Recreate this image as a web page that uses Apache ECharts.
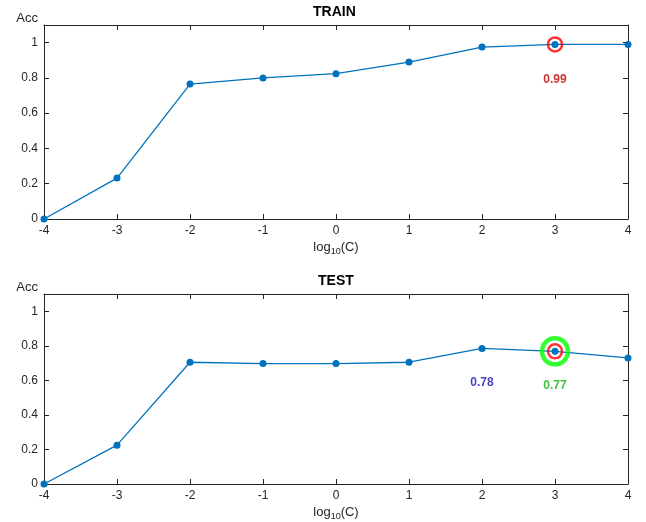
<!DOCTYPE html>
<html>
<head>
<meta charset="utf-8">
<script src="https://cdn.jsdelivr.net/npm/echarts@6/dist/echarts.min.js"></script>
<style>
  html, body { margin: 0; padding: 0; background: #fff; }
  #chart { width: 646px; height: 522px; }
</style>
</head>
<body>
<div id="chart"></div>
<script>
const logC = [-4, -3, -2, -1, 0, 1, 2, 3, 4];
const trainAcc = [0, 0.232, 0.765, 0.80, 0.824, 0.89, 0.975, 0.99, 0.99];
const testAcc = [0, 0.225, 0.705, 0.697, 0.697, 0.705, 0.785, 0.768, 0.73];
const yTicks = [0, 0.2, 0.4, 0.6, 0.8, 1];

// highlighted points and their text labels
const trainBest = [[3, 0.99]];
const trainBestLabel = [[3, 0.79, "0.99"]];
const testBestTrain = [[3, 0.768]];
const testBest = [[3, 0.768]];
const testMaxLabel = [[2, 0.585, "0.78"]];
const testBestLabel = [[3, 0.571, "0.77"]];

const chartDom = document.getElementById("chart");
const myChart = echarts.init(chartDom);

const axisColor = "#262626";
const font = "Helvetica, Arial, 'Liberation Sans', sans-serif";

function xAxisPair(gridIndex) {
  const base = {
    type: "value",
    gridIndex: gridIndex,
    min: -4,
    max: 4,
    interval: 1,
    splitLine: { show: false },
    axisLine: { onZero: false, lineStyle: { color: axisColor, width: 1 } },
    axisTick: { inside: true, length: 5, lineStyle: { color: axisColor } },
  };
  return [
    Object.assign({}, base, {
      position: "bottom",
      axisLabel: { color: axisColor, fontSize: 12, fontFamily: font, margin: 6 },
      name: "log{sub|10}(C)",
      nameLocation: "middle",
      nameGap: 20,
      nameTextStyle: {
        color: axisColor,
        fontSize: 13,
        fontFamily: font,
        rich: { sub: { fontSize: 9, fontFamily: font, color: axisColor, verticalAlign: "bottom", padding: [8, 0, 0, 0] } },
      },
    }),
    Object.assign({}, base, { position: "top", axisLabel: { show: false } }),
  ];
}

function yAxisPair(gridIndex) {
  const base = {
    type: "value",
    gridIndex: gridIndex,
    min: 0,
    max: 1.1,
    interval: 0.2,
    splitLine: { show: false },
    axisLine: { onZero: false, lineStyle: { color: axisColor, width: 1 } },
    axisTick: { inside: true, length: 5, lineStyle: { color: axisColor } },
  };
  return [
    Object.assign({}, base, {
      position: "left",
      axisLabel: {
        color: axisColor,
        fontSize: 12,
        fontFamily: font,
        margin: 6,
        showMaxLabel: false,
        formatter: (v) => (yTicks.includes(Math.round(v * 10) / 10) ? String(Math.round(v * 10) / 10) : ""),
      },
      name: "Acc",
      nameLocation: "end",
      nameGap: 0,
      nameTextStyle: { color: axisColor, fontSize: 13, fontFamily: font, align: "right", padding: [0, 6, 0, 0] },
    }),
    Object.assign({}, base, { position: "right", axisLabel: { show: false } }),
  ];
}

function lineSeries(name, values, idx) {
  return {
    name: name,
    type: "line",
    xAxisIndex: idx * 2,
    yAxisIndex: idx * 2,
    data: logC.map((x, i) => [x, values[i]]),
    lineStyle: { color: "#0072BD", width: 1.3 },
    itemStyle: { color: "#0072BD" },
    symbol: "circle",
    symbolSize: 7,
    z: 3,
  };
}

function ring(data, idx, color, size, width, z) {
  return {
    type: "scatter",
    xAxisIndex: idx * 2,
    yAxisIndex: idx * 2,
    data: data,
    symbol: "circle",
    symbolSize: size,
    itemStyle: { color: "rgba(0,0,0,0)", borderColor: color, borderWidth: width },
    z: z,
  };
}

function textMark(data, idx, color) {
  return {
    type: "scatter",
    xAxisIndex: idx * 2,
    yAxisIndex: idx * 2,
    data: data,
    symbolSize: 0,
    label: {
      show: true,
      position: "inside",
      formatter: (p) => p.data[2],
      color: color,
      fontSize: 12,
      fontWeight: "bold",
      fontFamily: font,
    },
  };
}

const option = {
  animation: false,
  backgroundColor: "#fff",
  graphic: [
    { type: "text", left: 336 - 23, top: 5, style: { text: "TRAIN", font: "bold 14px " + font, fill: "#000" } },
    { type: "text", left: 336 - 18, top: 274, style: { text: "TEST", font: "bold 14px " + font, fill: "#000" } },
  ],
  grid: [
    { left: 44, right: 18, top: 25, height: 194 },
    { left: 44, right: 18, top: 294, height: 193 },
  ],
  xAxis: [...xAxisPair(0), ...xAxisPair(1)],
  yAxis: [...yAxisPair(0), ...yAxisPair(1)],
  series: [
    lineSeries("Train", trainAcc, 0),
    lineSeries("Test", testAcc, 1),
    ring(trainBest, 0, "#ff0000", 14, 2.5, 4),
    ring(testBest, 1, "#00ff00", 26, 4.5, 4),
    ring(testBestTrain, 1, "#ff0000", 14, 2.5, 5),
    textMark(trainBestLabel, 0, "#c00000"),
    textMark(testMaxLabel, 1, "#1010b0"),
    textMark(testBestLabel, 1, "#10b010"),
  ],
};

myChart.setOption(option);

window.addEventListener("resize", function () {
  myChart.resize();
});
</script>
</body>
</html>
